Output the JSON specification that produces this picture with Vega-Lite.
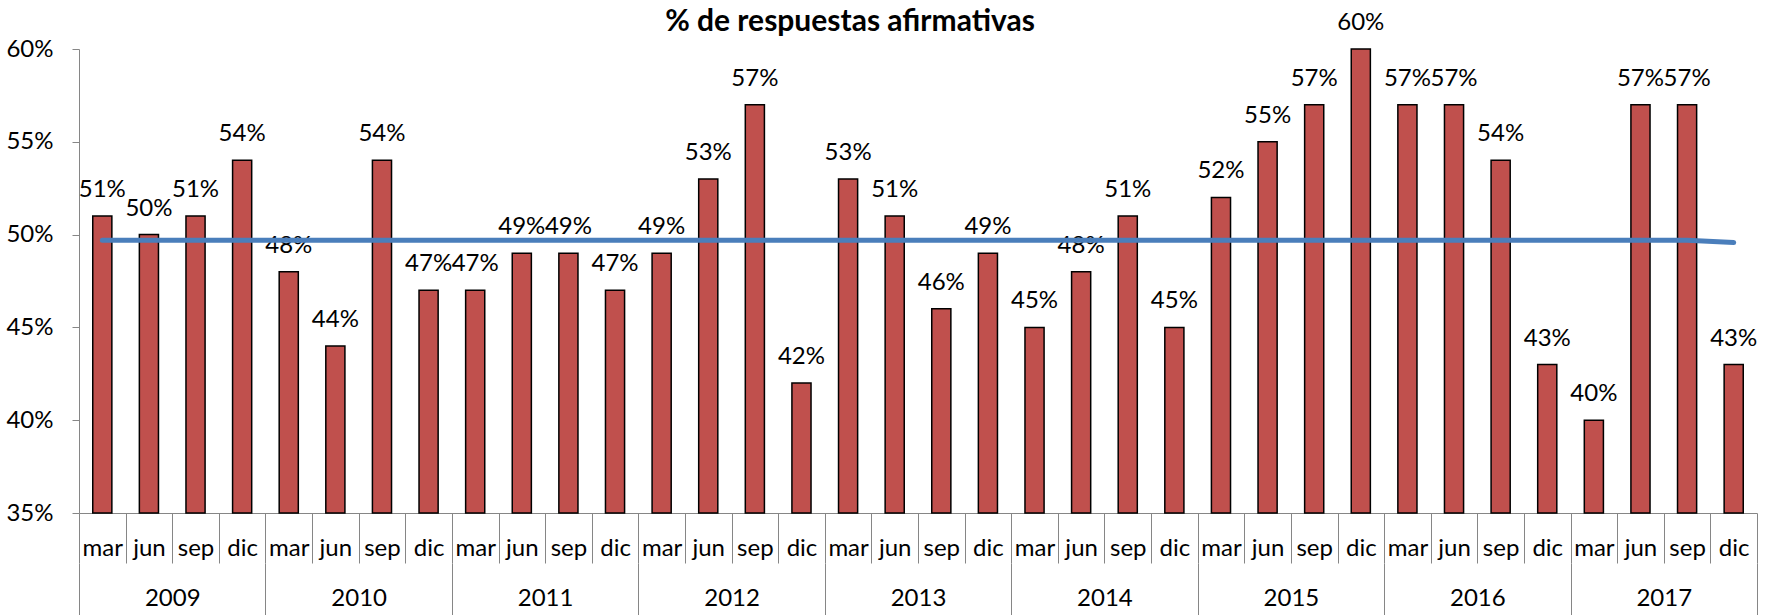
{
  "$schema": "https://vega.github.io/schema/vega-lite/v6.json",
  "autosize": {"type": "none"},
  "padding": {"left": 79, "top": 49, "right": 12, "bottom": 102},
  "width": 1678,
  "height": 464,
  "background": "white",
  "config": {
    "view": {"stroke": null},
    "font": "Lato",
    "axis": {"labelFont": "Lato", "labelFontSize": 24, "labelColor": "black", "domainColor": "#868686", "tickColor": "#868686", "grid": false, "title": null}
  },
  "title": {"text": "% de respuestas afirmativas", "font": "Lato", "fontSize": 30, "fontWeight": "bold", "color": "black", "anchor": "middle", "dx": -68, "dy": 30},
  "data": {"values": [
    {"key": "2009|mar", "year": "2009", "pct": 0.51, "trend": 0.497},
    {"key": "2009|jun", "year": "2009", "pct": 0.50, "trend": 0.497},
    {"key": "2009|sep", "year": "2009", "pct": 0.51, "trend": 0.497},
    {"key": "2009|dic", "year": "2009", "pct": 0.54, "trend": 0.497},
    {"key": "2010|mar", "year": "2010", "pct": 0.48, "trend": 0.497},
    {"key": "2010|jun", "year": "2010", "pct": 0.44, "trend": 0.497},
    {"key": "2010|sep", "year": "2010", "pct": 0.54, "trend": 0.497},
    {"key": "2010|dic", "year": "2010", "pct": 0.47, "trend": 0.497},
    {"key": "2011|mar", "year": "2011", "pct": 0.47, "trend": 0.497},
    {"key": "2011|jun", "year": "2011", "pct": 0.49, "trend": 0.497},
    {"key": "2011|sep", "year": "2011", "pct": 0.49, "trend": 0.497},
    {"key": "2011|dic", "year": "2011", "pct": 0.47, "trend": 0.497},
    {"key": "2012|mar", "year": "2012", "pct": 0.49, "trend": 0.497},
    {"key": "2012|jun", "year": "2012", "pct": 0.53, "trend": 0.497},
    {"key": "2012|sep", "year": "2012", "pct": 0.57, "trend": 0.497},
    {"key": "2012|dic", "year": "2012", "pct": 0.42, "trend": 0.497},
    {"key": "2013|mar", "year": "2013", "pct": 0.53, "trend": 0.497},
    {"key": "2013|jun", "year": "2013", "pct": 0.51, "trend": 0.497},
    {"key": "2013|sep", "year": "2013", "pct": 0.46, "trend": 0.497},
    {"key": "2013|dic", "year": "2013", "pct": 0.49, "trend": 0.497},
    {"key": "2014|mar", "year": "2014", "pct": 0.45, "trend": 0.497},
    {"key": "2014|jun", "year": "2014", "pct": 0.48, "trend": 0.497},
    {"key": "2014|sep", "year": "2014", "pct": 0.51, "trend": 0.497},
    {"key": "2014|dic", "year": "2014", "pct": 0.45, "trend": 0.497},
    {"key": "2015|mar", "year": "2015", "pct": 0.52, "trend": 0.497},
    {"key": "2015|jun", "year": "2015", "pct": 0.55, "trend": 0.497},
    {"key": "2015|sep", "year": "2015", "pct": 0.57, "trend": 0.497},
    {"key": "2015|dic", "year": "2015", "pct": 0.60, "trend": 0.497},
    {"key": "2016|mar", "year": "2016", "pct": 0.57, "trend": 0.497},
    {"key": "2016|jun", "year": "2016", "pct": 0.57, "trend": 0.497},
    {"key": "2016|sep", "year": "2016", "pct": 0.54, "trend": 0.497},
    {"key": "2016|dic", "year": "2016", "pct": 0.43, "trend": 0.497},
    {"key": "2017|mar", "year": "2017", "pct": 0.40, "trend": 0.497},
    {"key": "2017|jun", "year": "2017", "pct": 0.57, "trend": 0.497},
    {"key": "2017|sep", "year": "2017", "pct": 0.57, "trend": 0.497},
    {"key": "2017|dic", "year": "2017", "pct": 0.43, "trend": 0.4957}
  ]},
  "layer": [
    {
      "encoding": {
        "x": {"field": "key", "type": "nominal", "sort": null,
              "scale": {"paddingInner": 0, "paddingOuter": 0},
              "axis": {"orient": "bottom", "tickBand": "extent", "tickSize": 50, "labelBaseline": "middle", "labelPadding": -15, "labelAngle": 0, "labelExpr": "split(datum.label, '|')[1]"}}
      },
      "layer": [
        {
          "mark": {"type": "bar", "color": "#c0504d", "stroke": "black", "strokeWidth": 1.5, "width": {"band": 0.41}},
          "encoding": {
            "y": {"field": "pct", "type": "quantitative",
                  "scale": {"domain": [0.35, 0.6], "zero": false, "nice": false},
                  "axis": {"values": [0.35, 0.4, 0.45, 0.5, 0.55, 0.6], "format": ".0%", "tickSize": 7, "labelPadding": 19}},
            "y2": {"datum": 0.35}
          }
        },
        {
          "mark": {"type": "text", "font": "Lato", "fontSize": 24, "color": "black", "baseline": "alphabetic", "dy": -19},
          "encoding": {
            "y": {"field": "pct", "type": "quantitative"},
            "text": {"field": "pct", "type": "quantitative", "format": ".0%"}
          }
        },
        {
          "mark": {"type": "line", "color": "#4a7ebb", "strokeWidth": 5, "strokeCap": "round"},
          "encoding": {
            "y": {"field": "trend", "type": "quantitative"}
          }
        }
      ]
    },
    {
      "mark": {"type": "bar", "opacity": 0},
      "encoding": {
        "x": {"field": "year", "type": "nominal", "sort": null,
              "scale": {"paddingInner": 0, "paddingOuter": 0},
              "axis": {"orient": "bottom", "offset": 50, "domain": false, "tickBand": "extent", "tickSize": 52, "labelBaseline": "middle", "labelPadding": -17, "labelAngle": 0}}
      }
    }
  ],
  "resolve": {"scale": {"x": "independent"}}
}
